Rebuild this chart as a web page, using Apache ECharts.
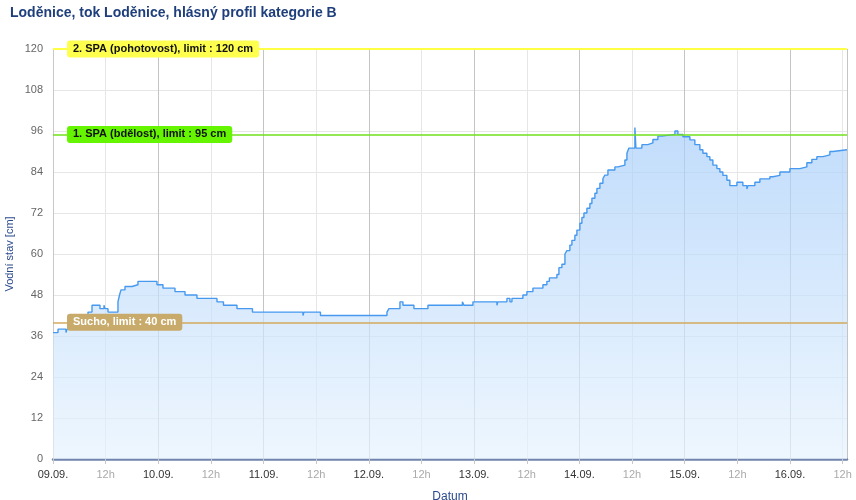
<!DOCTYPE html>
<html>
<head>
<meta charset="utf-8">
<script src="https://cdn.jsdelivr.net/npm/echarts@6/dist/echarts.min.js"></script>
<style>html,body{margin:0;padding:0;background:#fff}#c{width:856px;height:500px}</style>
</head>
<body>
<div id="c"></div>
<script>
// Hours since 09.09. 00:00 at which the water level changes
const hours = [0, 1.14, 2.96, 3.2, 6.84, 7.98, 8.89, 10.71, 11.62, 11.85, 12.54, 14.81, 15.16, 15.5, 16.41, 18.0, 19.37,
  23.7, 25.07, 27.81, 30.09, 32.82, 37.38, 38.86, 41.94, 45.47, 56.98, 57.21, 60.97,
  76.13, 76.58, 78.63, 79.09, 79.77, 82.28, 85.47, 93.33, 93.67, 95.73, 101.2, 101.4,
  103.48, 104.16, 104.62, 107.12, 108.03, 109.4, 111.68, 112.59, 113.16, 114.87, 115.33, 116.01,
  116.7, 117.15, 117.83, 118.29, 118.97, 119.43, 120.11, 120.57, 121.03, 121.71, 122.39, 122.85,
  123.53, 123.99, 124.67, 125.36, 125.81, 126.5, 128.09, 128.77, 130.37, 130.83, 131.28,
  132.65, 132.88, 134.25, 135.61, 136.75, 137.89, 138.8, 141.77, 142.45, 143.59, 145.19,
  146.32, 147.46, 148.15, 149.06, 149.74, 150.43, 151.34, 152.02, 152.71, 153.62, 154.3,
  155.9, 157.26, 158.18, 158.4, 160.0, 161.14, 163.42, 164.1, 165.7, 167.98, 170.26,
  171.85, 172.99, 174.13, 175.5, 177.09, 177.78, 181];
// Water level [cm]
const levels = [37, 38, 37, 38, 42, 43, 45, 44, 45, 44, 43, 46, 48, 49.5, 50.5, 51, 52,
  51, 50, 49, 48, 47, 46, 45, 44, 43, 42, 43, 42,
  43, 44, 44, 46, 45, 44, 45, 46, 45, 46, 45, 46,
  47, 46, 47, 48, 49, 50, 51, 52, 53, 54, 56, 57,
  60, 61, 62.6, 64, 65.5, 67, 69, 70.7, 72, 73.4, 74.8, 76.3,
  77.8, 79.2, 80.7, 82.1, 83.1, 84.6, 85.5, 86, 87.5, 89.5, 91,
  97, 91, 92, 92.5, 93.5, 94.5, 95, 96, 95, 94.3, 93.4,
  92, 90.5, 89.5, 88.5, 87.5, 86, 85, 84, 83, 81.6, 80,
  81, 80, 79, 80, 81, 82, 82.6, 83, 84, 85, 85.5,
  86.7, 87.7, 88.5, 89, 90, 90.5, 90.5];
// Day tick labels
const dayLabels = ['09.09.', '10.09.', '11.09.', '12.09.', '13.09.', '14.09.', '15.09.', '16.09.'];
// Limits
const limitValues = [120, 95, 40];
const limitNames = ['2. SPA (pohotovost), limit : 120 cm', '1. SPA (bdělost), limit : 95 cm', 'Sucho, limit : 40 cm'];

const limitLineColors = ['#ffff44', '#6fe01a', '#d4aa5c'];
const limitBoxColors = ['#ffff4d', '#66f500', '#c8ab6a'];
const limitTextColors = ['#111', '#111', '#fff'];
const limitWidths = [2, 1.5, 1.5];

const data = hours.map((h, i) => [h, levels[i]]);
const FONT = '"Liberation Sans", Arial, sans-serif';

const chart = echarts.init(document.getElementById('c'), null, {renderer: 'canvas'});
chart.setOption({
  animation: false,
  textStyle: {fontFamily: FONT},
  title: {
    text: 'Loděnice, tok Loděnice, hlásný profil kategorie B',
    left: 5, top: 1,
    textStyle: {fontFamily: FONT, fontSize: 14, fontWeight: 'bold', color: '#1f3f7c'}
  },
  grid: {left: 53, right: 9, top: 49, bottom: 41, containLabel: false, outerBoundsMode: 'none'},
  xAxis: {
    type: 'value', min: 0, max: 181, interval: 12,
    name: 'Datum', nameLocation: 'middle', nameGap: 32, nameMoveOverlap: false,
    nameTextStyle: {color: '#2a4a8e', fontSize: 12, fontFamily: FONT},
    axisLine: {show: true, onZero: false, lineStyle: {color: '#7084ad', width: 2.5}},
    axisTick: {show: true, length: 5, lineStyle: {color: '#c8c8c8'}},
    splitLine: {show: true, lineStyle: {color: ['#c4c4c4', '#e6e6e6'], width: 1}},
    axisLabel: {
      margin: 10, showMaxLabel: false,
      formatter: v => (v % 24 === 0 ? '{d|' + dayLabels[v / 24] + '}' : '{h|12h}'),
      rich: {
        d: {color: '#333', fontSize: 11, fontFamily: FONT},
        h: {color: '#aaa', fontSize: 11, fontFamily: FONT}
      }
    }
  },
  yAxis: {
    type: 'value', min: 0, max: 120, interval: 12,
    name: 'Vodní stav [cm]', nameLocation: 'middle', nameGap: 38, nameRotate: 90, nameMoveOverlap: false,
    nameTextStyle: {color: '#2a4a8e', fontSize: 11, fontFamily: FONT},
    axisLine: {show: true, lineStyle: {color: '#c8c8c8', width: 1}},
    axisTick: {show: false},
    splitLine: {show: true, lineStyle: {color: '#e6e6e6', width: 1}},
    axisLabel: {color: '#666', fontSize: 11, margin: 10, fontFamily: FONT}
  },
  series: [{
    type: 'line',
    data: data,
    step: 'end',
    symbol: 'none',
    lineStyle: {color: '#4799ef', width: 1.4},
    areaStyle: {
      color: new echarts.graphic.LinearGradient(0, 0, 0, 1, [
        {offset: 0, color: '#a6cdf9'},
        {offset: 1, color: '#e6f2fd'}
      ])
    },
    z: 2,
    markLine: {
      silent: true, symbol: 'none', animation: false,
      label: {show: false},
      data: limitValues.map((v, i) => ({
        yAxis: v,
        lineStyle: {color: limitLineColors[i], width: limitWidths[i], type: 'solid'}
      }))
    },
    markPoint: {
      silent: true, animation: false,
      symbol: 'circle', symbolSize: 0,
      itemStyle: {color: 'rgba(0,0,0,0)'},
      data: limitValues.map((v, i) => ({
        coord: [0, v],
        label: {
          show: true, position: 'right', distance: 14,
          formatter: limitNames[i],
          backgroundColor: limitBoxColors[i],
          color: limitTextColors[i],
          fontWeight: 'bold', fontSize: 11, fontFamily: FONT,
          padding: [3, 6, 3, 6], borderRadius: 3
        }
      }))
    }
  }]
});
</script>
</body>
</html>
